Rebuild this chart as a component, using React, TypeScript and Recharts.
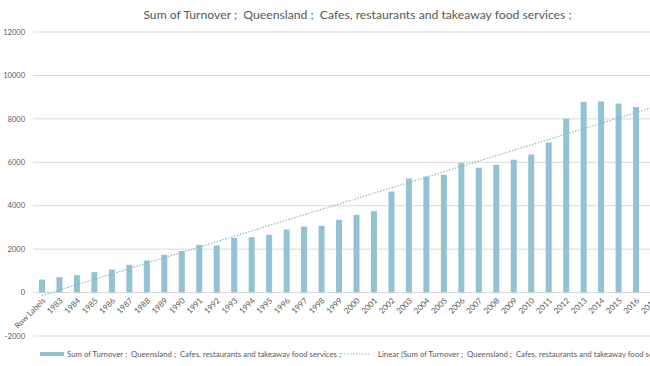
import { Bar, CartesianGrid, ComposedChart, Legend, Line, XAxis, YAxis } from "recharts"

const categories = [
  "Row Labels", "1983", "1984", "1985", "1986", "1987", "1988", "1989", "1990",
  "1991", "1992", "1993", "1994", "1995", "1996", "1997", "1998", "1999", "2000",
  "2001", "2002", "2003", "2004", "2005", "2006", "2007", "2008", "2009", "2010",
  "2011", "2012", "2013", "2014", "2015", "2016", "2017",
]

const turnover = [
  600, 710, 800, 940, 1060, 1275, 1475, 1737, 1906, 2198, 2166, 2520, 2550, 2658,
  2903, 3041, 3073, 3350, 3580, 3750, 4655, 5255, 5346, 5424, 5977, 5747, 5885,
  6115, 6360, 6912, 8018, 8774, 8802, 8710, 8543, 8327,
]

const yTicks = [-2000, 0, 2000, 4000, 6000, 8000, 10000, 12000]

const SERIES_NAME = "Sum of Turnover ;  Queensland ;  Cafes, restaurants and takeaway food services ;"
const TREND_NAME = `Linear (${SERIES_NAME})`

const BAR_COLOR = "#93c3d2"
const TREND_COLOR = "#8fb7c6"
const TEXT = "#595959"
const FONT = "Lato, 'Open Sans', sans-serif"

// linear trendline, least squares over the category index (like Excel's)
const n = turnover.length
const meanX = (n - 1) / 2
const meanY = turnover.reduce((s, v) => s + v, 0) / n
const slope =
  turnover.reduce((s, v, i) => s + (i - meanX) * (v - meanY), 0) /
  turnover.reduce((s, _v, i) => s + (i - meanX) ** 2, 0)
const intercept = meanY - slope * meanX

const data = categories.map((name, i) => ({
  name,
  turnover: turnover[i],
  trend: intercept + slope * i,
}))

// category labels sit under the zero line, not under the -2000 edge
const ZERO_OFFSET = 37

function CategoryTick(props: any) {
  const { x, y, payload } = props
  const ty = y - ZERO_OFFSET
  return (
    <text
      x={x + 2}
      y={ty}
      transform={`rotate(-45 ${x + 2} ${ty})`}
      textAnchor="end"
      dominantBaseline="central"
      fontSize={8}
      fontFamily={FONT}
      fill={TEXT}
    >
      {payload.value}
    </text>
  )
}

function LegendContent(props: any) {
  // bar first, then the trendline
  const items = [...(props.payload || [])].sort(
    (a: any, b: any) => (a.type === "line" ? 1 : 0) - (b.type === "line" ? 1 : 0)
  )
  const starts = [40, 341]
  return (
    <svg width={680} height={30} style={{ display: "block" }}>
      {items.map((item: any, i: number) => {
        const x0 = starts[i] ?? 40
        const isLine = item.type === "line"
        return (
          <g key={item.value}>
            {isLine ? (
              <line
                x1={x0}
                x2={x0 + 28}
                y1={18}
                y2={18}
                stroke={item.color}
                strokeWidth={1}
                strokeDasharray="1.5 1.5"
              />
            ) : (
              <rect x={x0} y={16} width={24} height={4} fill={item.color} />
            )}
            <text
              x={isLine ? x0 + 37 : x0 + 27}
              y={18}
              dominantBaseline="central"
              fontSize={7.8}
              fontFamily={FONT}
              fill={TEXT}
              style={{ whiteSpace: "pre" }}
            >
              {item.value}
            </text>
          </g>
        )
      })}
    </svg>
  )
}

export default function App() {
  return (
    <div
      style={{
        position: "fixed",
        left: 0,
        top: 0,
        width: 650,
        height: 366,
        overflow: "hidden",
        background: "#fff",
      }}
    >
      <div
        style={{
          position: "absolute",
          left: 0,
          width: 715,
          top: 7,
          textAlign: "center",
          fontFamily: FONT,
          fontSize: 12.2,
          color: TEXT,
          whiteSpace: "pre",
        }}
      >
        {SERIES_NAME}
      </div>
      <ComposedChart
        width={680}
        height={366}
        data={data}
        margin={{ top: 32, right: 18, bottom: 0, left: 0 }}
        barCategoryGap={0}
      >
        <CartesianGrid vertical={false} stroke="#d9d9d9" />
        <XAxis
          dataKey="name"
          interval={0}
          height={30}
          axisLine={false}
          tickLine={false}
          tickSize={0}
          tickMargin={0}
          tick={<CategoryTick />}
        />
        <YAxis
          width={33}
          domain={[-2000, 12000]}
          ticks={yTicks}
          axisLine={false}
          tickLine={false}
          tick={{ fontSize: 7.5, fontFamily: FONT, fill: TEXT }}
        />
        <Legend
          content={<LegendContent />}
          layout="horizontal"
          align="center"
          verticalAlign="middle"
          wrapperStyle={{ left: 0, top: 336, width: 680, height: 30 }}
        />
        <Bar
          dataKey="turnover"
          name={SERIES_NAME}
          fill={BAR_COLOR}
          barSize={6}
          isAnimationActive={false}
        />
        <Line
          dataKey="trend"
          name={TREND_NAME}
          type="linear"
          stroke={TREND_COLOR}
          strokeWidth={1.2}
          strokeDasharray="1.5 1.5"
          dot={false}
          activeDot={false}
          legendType="line"
          isAnimationActive={false}
        />
      </ComposedChart>
    </div>
  )
}
